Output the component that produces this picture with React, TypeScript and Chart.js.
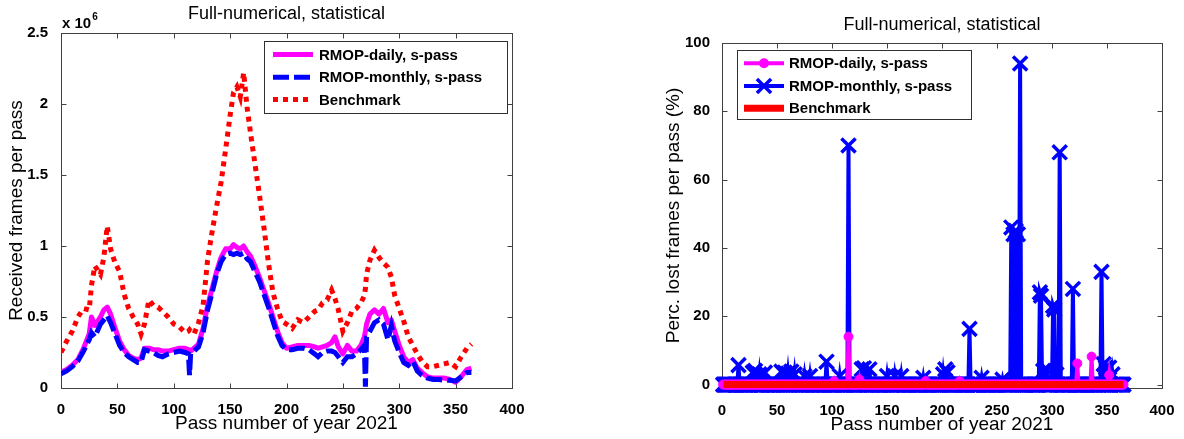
import React, { useEffect, useRef } from "react";
import { Chart, registerables } from "chart.js";

Chart.register(...registerables);

const FONT = 'Arial, "Liberation Sans", Helvetica, sans-serif';

// ---------- Left chart: received frames per pass (units of 10^6) ----------
const recvPasses = [
  0, 5, 10, 15, 20, 25, 27, 30, 35, 38, 41, 44, 48, 52, 56, 60, 64, 68, 71, 74,
  78, 82, 86, 90, 95, 100, 105, 110, 113, 114, 115, 118, 122, 126, 130, 134, 138, 142, 146, 150,
  153, 156, 159, 162, 165, 168, 172, 176, 180, 184, 188, 192, 196, 200, 205, 210, 215, 220, 225, 228,
  232, 236, 240, 243, 246, 250, 254, 258, 262, 266, 269, 270, 271, 274, 278, 282, 286, 290, 293, 296,
  300, 304, 308, 312, 316, 320, 325, 330, 335, 340, 345, 350, 355, 360, 364,
];
const recvDaily = [
  0.11, 0.13, 0.16, 0.2, 0.28, 0.38, 0.5, 0.44, 0.5, 0.55, 0.57, 0.52, 0.42, 0.33, 0.27, 0.23, 0.21, 0.2, 0.21, 0.28,
  0.28, 0.27, 0.27, 0.26, 0.26, 0.27, 0.28, 0.28, 0.27, 0.27, 0.26, 0.28, 0.31, 0.42, 0.58, 0.7, 0.82, 0.92, 0.98, 0.98,
  1.01, 0.99, 0.98, 1.0, 0.96, 0.93, 0.86, 0.78, 0.69, 0.6, 0.5, 0.4, 0.32, 0.28, 0.29, 0.3, 0.3, 0.3, 0.29, 0.28,
  0.29, 0.3, 0.32, 0.36, 0.29, 0.24, 0.3, 0.26, 0.26, 0.3, 0.36, 0.4, 0.45, 0.52, 0.55, 0.52, 0.56, 0.46, 0.48, 0.4,
  0.3, 0.22, 0.18, 0.2, 0.14, 0.11, 0.08, 0.07, 0.07, 0.07, 0.06, 0.04, 0.08, 0.13, 0.14,
];
const recvMonthly = [
  0.1, 0.12, 0.15, 0.19, 0.26, 0.34, 0.39, 0.36, 0.45, 0.48, 0.51, 0.46, 0.38, 0.3, 0.25, 0.22, 0.2, 0.18, 0.18, 0.27,
  0.26, 0.25, 0.23, 0.22, 0.24, 0.25, 0.26, 0.25, 0.24, 0.09, 0.24, 0.26, 0.29, 0.39, 0.55, 0.67, 0.8, 0.89, 0.94, 0.95,
  0.94, 0.95, 0.94, 0.95, 0.91, 0.89, 0.82, 0.75, 0.66, 0.57, 0.47, 0.37, 0.3, 0.27, 0.27, 0.28, 0.28, 0.27, 0.24, 0.22,
  0.25, 0.26, 0.26, 0.25, 0.22, 0.18, 0.22, 0.22, 0.24, 0.27, 0.3, 0.01, 0.36, 0.4, 0.46, 0.48, 0.45, 0.34, 0.44, 0.33,
  0.25, 0.18, 0.16, 0.19, 0.12, 0.09, 0.07, 0.06, 0.06, 0.055, 0.055, 0.05, 0.08, 0.11, 0.11,
];
const recvBenchmark = [
  0.25, 0.33, 0.4, 0.5, 0.56, 0.55, 0.72, 0.86, 0.8, 0.92, 1.14, 0.98, 0.88, 0.82, 0.66, 0.56, 0.5, 0.45, 0.38, 0.45,
  0.62, 0.58, 0.57, 0.54, 0.5, 0.45, 0.43, 0.39, 0.4, 0.41, 0.4, 0.38, 0.46, 0.58, 0.9, 1.1, 1.28, 1.45, 1.68, 1.92,
  2.08, 2.12, 2.05, 2.22, 1.98, 1.8, 1.58, 1.36, 1.13, 0.88, 0.67, 0.56, 0.47, 0.45, 0.42, 0.48, 0.46, 0.5, 0.54, 0.55,
  0.6, 0.62, 0.69, 0.63, 0.55, 0.4, 0.46, 0.54, 0.56, 0.6, 0.65, 0.7, 0.8, 0.9, 0.97, 0.92, 0.88, 0.85, 0.78, 0.65,
  0.56, 0.47, 0.36, 0.3, 0.24, 0.19, 0.15, 0.15, 0.16, 0.17, 0.18, 0.15, 0.22, 0.28, 0.31,
];

// ---------- Right chart: percentage of lost frames per pass ----------
const lossFirstPass = 1;
const lossLastPass = 365;
// passes not listed below are read as 0 %
const lossDailyPasses = [102, 115, 125, 185, 216, 323, 336, 352];
const lossDailyValues = [1, 14, 1.5, 1, 1, 6.2, 8.2, 2.8];
const lossMonthlyPasses = [
  15, 28, 30, 34, 39, 54, 57, 60, 63, 66, 75, 80, 95, 107, 115, 127, 129, 134, 150, 157,
  163, 183, 201, 203, 205, 225, 236, 255, 263, 265, 267, 269, 271, 289, 290, 292,
  295, 301, 302, 304, 307, 319, 345, 347, 349, 352, 355,
];
const lossMonthlyValues = [
  5.7, 3.5, 4, 3, 3.5, 3.8, 3.5, 3.2, 3.8, 3, 2.5, 2.5, 6.7, 2.5, 70, 4.5, 4.8, 4.5, 2.5, 2.5,
  2.5, 2, 3, 4.5, 3.6, 16.3, 2, 1.5, 46, 44, 45, 44, 94, 27, 26, 4,
  4.5, 23, 22, 3, 68, 28, 33, 6, 5, 5, 3,
];
const lossBenchmarkPasses = [1, 365];
const lossBenchmarkValues = [0, 0];

const xTicks = [0, 50, 100, 150, 200, 250, 300, 350, 400];
const recvYTicks = [0, 0.5, 1, 1.5, 2, 2.5];
const lossYTicks = [0, 20, 40, 60, 80, 100];

const TITLE = "Full-numerical, statistical";
const X_TITLE = "Pass number of year 2021";

const MAGENTA = "#ff00ff";
const BLUE = "#0000ff";
const RED = "#ff0000";

function xy(px: number[], vs: number[]) {
  return px.map((p, i) => ({ x: p, y: vs[i] }));
}
function sparseSeries(first: number, last: number, px: number[], vs: number[]) {
  const m = new Map<number, number>();
  px.forEach((p, i) => m.set(p, vs[i]));
  const out: { x: number; y: number }[] = [];
  for (let p = first; p <= last; p++) out.push({ x: p, y: m.has(p) ? (m.get(p) as number) : 0 });
  return out;
}

function drawX(ctx: CanvasRenderingContext2D, x: number, y: number, r: number) {
  const d = r * Math.SQRT1_2;
  ctx.beginPath();
  ctx.moveTo(x - d, y - d);
  ctx.lineTo(x + d, y + d);
  ctx.moveTo(x + d, y - d);
  ctx.lineTo(x - d, y + d);
  ctx.stroke();
}

const matlabPlugin = {
  id: "matlab",
  beforeDatasetsDraw(chart: any) {
    const { ctx, chartArea: a } = chart;
    const xs = chart.scales.x;
    const ys = chart.scales.y;
    const L = Math.round(a.left) + 0.5;
    const R = Math.round(a.right) + 0.5;
    const T = Math.round(a.top) + 0.5;
    const B = Math.round(a.bottom) + 0.5;
    ctx.save();
    ctx.strokeStyle = "#404040";
    ctx.lineWidth = 1;
    ctx.strokeRect(L, T, R - L, B - T);
    ctx.beginPath();
    for (const t of xs.ticks) {
      const px = Math.round(xs.getPixelForValue(t.value)) + 0.5;
      ctx.moveTo(px, B);
      ctx.lineTo(px, B - 5);
      ctx.moveTo(px, T);
      ctx.lineTo(px, T + 5);
    }
    for (const t of ys.ticks) {
      const py = Math.round(ys.getPixelForValue(t.value)) + 0.5;
      ctx.moveTo(L, py);
      ctx.lineTo(L + 5, py);
      ctx.moveTo(R, py);
      ctx.lineTo(R - 5, py);
    }
    ctx.stroke();
    ctx.restore();
  },
  afterDraw(chart: any, _args: any, opts: any) {
    const { ctx } = chart;
    ctx.save();
    if (opts.exponent) {
      const e = opts.exponent;
      ctx.fillStyle = "#000";
      ctx.textBaseline = "alphabetic";
      ctx.textAlign = "left";
      ctx.font = `bold 15px ${FONT}`;
      ctx.fillText(e.base, e.x, e.y);
      const w = ctx.measureText(e.base).width;
      ctx.font = `bold 10px ${FONT}`;
      ctx.fillText(e.sup, e.x + w + 1, e.y - 8);
    }
    const lg = opts.legend;
    if (lg) {
      ctx.fillStyle = "#fff";
      ctx.fillRect(lg.x, lg.y, lg.w, lg.h);
      ctx.strokeStyle = "#303030";
      ctx.lineWidth = 1;
      ctx.strokeRect(lg.x + 0.5, lg.y + 0.5, lg.w, lg.h);
      chart.data.datasets.forEach((ds: any, i: number) => {
        const y = lg.rows[i];
        ctx.save();
        ctx.strokeStyle = ds.borderColor;
        ctx.lineWidth = lg.lineWidths ? lg.lineWidths[i] : ds.borderWidth;
        ctx.lineCap = "butt";
        ctx.setLineDash(ds.borderDash || []);
        ctx.beginPath();
        ctx.moveTo(lg.x0, y);
        ctx.lineTo(lg.x1, y);
        ctx.stroke();
        ctx.setLineDash([]);
        const mx = (lg.x0 + lg.x1) / 2;
        if (ds.pointRadius > 0) {
          if (ds.pointStyle === "crossRot") {
            ctx.strokeStyle = ds.pointBorderColor;
            ctx.lineWidth = ds.pointBorderWidth;
            drawX(ctx, mx, y, ds.pointRadius);
          } else {
            ctx.fillStyle = ds.pointBackgroundColor;
            ctx.beginPath();
            ctx.arc(mx, y, ds.pointRadius + 0.5, 0, Math.PI * 2);
            ctx.fill();
          }
        }
        ctx.restore();
        ctx.fillStyle = "#000";
        ctx.font = `bold 15px ${FONT}`;
        ctx.textBaseline = "middle";
        ctx.textAlign = "left";
        ctx.fillText(ds.label, lg.textX, y + 1);
      });
    }
    ctx.restore();
  },
};

function tickCfg(padding: number) {
  return {
    autoSkip: false,
    maxRotation: 0,
    minRotation: 0,
    padding,
    color: "#000",
    font: { family: FONT, size: 15, weight: "bold" as const },
    callback: (v: any) => String(v),
  };
}

function makeScales(o: {
  yMin: number;
  yMax: number;
  yTicks: number[];
  yWidth: number;
  yTitle: string;
  yTitlePad: number;
  yTickPad: number;
  xHeight: number;
  xTickPad: number;
  xTitlePad: number;
}) {
  return {
    x: {
      type: "linear" as const,
      min: 0,
      max: 400,
      afterBuildTicks: (s: any) => {
        s.ticks = xTicks.map((v) => ({ value: v }));
      },
      afterFit: (s: any) => {
        s.height = o.xHeight;
      },
      grid: { display: false },
      border: { display: false },
      ticks: tickCfg(o.xTickPad),
      title: {
        display: true,
        text: X_TITLE,
        color: "#000",
        font: { family: FONT, size: 19, weight: "normal" as const },
        padding: { top: 0, bottom: o.xTitlePad },
      },
    },
    y: {
      type: "linear" as const,
      min: o.yMin,
      max: o.yMax,
      afterBuildTicks: (s: any) => {
        s.ticks = o.yTicks.map((v) => ({ value: v }));
      },
      afterFit: (s: any) => {
        s.width = o.yWidth;
      },
      grid: { display: false },
      border: { display: false },
      ticks: tickCfg(o.yTickPad),
      title: {
        display: true,
        text: o.yTitle,
        color: "#000",
        font: { family: FONT, size: 19, weight: "normal" as const },
        padding: { top: o.yTitlePad, bottom: 0 },
      },
    },
  };
}

function leftConfig(): any {
  return {
    type: "line",
    data: {
      datasets: [
        {
          label: "RMOP-daily, s-pass",
          data: xy(recvPasses, recvDaily),
          borderColor: MAGENTA,
          borderWidth: 5,
          borderJoinStyle: "round",
          pointRadius: 0,
          order: 2,
        },
        {
          label: "RMOP-monthly, s-pass",
          data: xy(recvPasses, recvMonthly),
          borderColor: BLUE,
          borderWidth: 5,
          borderDash: [16, 5],
          pointRadius: 0,
          order: 1,
        },
        {
          label: "Benchmark",
          data: xy(recvPasses, recvBenchmark),
          borderColor: RED,
          borderWidth: 5,
          borderDash: [5, 5],
          pointRadius: 0,
          order: 0,
        },
      ],
    },
    options: {
      animation: false,
      responsive: false,
      devicePixelRatio: 1,
      events: [],
      layout: { padding: { left: 0, right: 80, top: 0, bottom: 3 }, autoPadding: false },
      scales: makeScales({
        yMin: 0,
        yMax: 2.5,
        yTicks: recvYTicks,
        yWidth: 61,
        yTitle: "Received frames per pass",
        yTitlePad: 5.6,
        yTickPad: 5,
        xHeight: 48,
        xTickPad: 4.6,
        xTitlePad: 0.6,
      }),
      plugins: {
        legend: { display: false },
        tooltip: { enabled: false },
        title: {
          display: true,
          text: TITLE,
          fullSize: false,
          color: "#000",
          font: { family: FONT, size: 18, weight: "normal" },
          padding: { top: 3.2, bottom: 8.2 },
        },
        matlab: {
          exponent: { x: 62, y: 28, base: "x 10", sup: "6" },
          legend: { x: 264, y: 41, w: 243, h: 72, rows: [54.5, 77.3, 99.5], x0: 273, x1: 313, textX: 319 },
        },
      },
    },
    plugins: [matlabPlugin],
  };
}

function rightConfig(): any {
  return {
    type: "line",
    data: {
      datasets: [
        {
          label: "RMOP-daily, s-pass",
          data: sparseSeries(lossFirstPass, lossLastPass, lossDailyPasses, lossDailyValues),
          borderColor: MAGENTA,
          borderWidth: 4,
          pointStyle: "circle",
          pointRadius: 4.5,
          pointBorderWidth: 1,
          pointBackgroundColor: MAGENTA,
          pointBorderColor: MAGENTA,
          clip: false,
          order: 1,
        },
        {
          label: "RMOP-monthly, s-pass",
          data: sparseSeries(lossFirstPass, lossLastPass, lossMonthlyPasses, lossMonthlyValues),
          borderColor: BLUE,
          borderWidth: 4,
          pointStyle: "crossRot",
          pointRadius: 10,
          pointBorderWidth: 3.5,
          pointBackgroundColor: BLUE,
          pointBorderColor: BLUE,
          clip: false,
          order: 2,
        },
        {
          label: "Benchmark",
          data: xy(lossBenchmarkPasses, lossBenchmarkValues),
          borderColor: RED,
          borderWidth: 7,
          pointRadius: 0,
          clip: false,
          order: 0,
        },
      ],
    },
    options: {
      animation: false,
      responsive: false,
      devicePixelRatio: 1,
      events: [],
      layout: { padding: { left: 0, right: 22, top: 0, bottom: 3 }, autoPadding: false },
      scales: makeScales({
        yMin: -1,
        yMax: 100,
        yTicks: lossYTicks,
        yWidth: 130,
        yTitle: "Perc. lost frames per pass (%)",
        yTitlePad: 70.6,
        yTickPad: 4,
        xHeight: 48,
        xTickPad: 5.6,
        xTitlePad: 0,
      }),
      plugins: {
        legend: { display: false },
        tooltip: { enabled: false },
        title: {
          display: true,
          text: TITLE,
          fullSize: false,
          color: "#000",
          font: { family: FONT, size: 18, weight: "normal" },
          padding: { top: 14.2, bottom: 7.2 },
        },
        matlab: {
          legend: {
            x: 145,
            y: 50,
            w: 234,
            h: 69,
            rows: [63.3, 86, 108.3],
            x0: 152,
            x1: 192,
            textX: 197,
            lineWidths: [4, 4, 7],
          },
        },
      },
    },
    plugins: [matlabPlugin],
  };
}

export default function App() {
  const leftRef = useRef<HTMLCanvasElement>(null);
  const rightRef = useRef<HTMLCanvasElement>(null);
  useEffect(() => {
    const c1 = new Chart(leftRef.current as HTMLCanvasElement, leftConfig());
    const c2 = new Chart(rightRef.current as HTMLCanvasElement, rightConfig());
    return () => {
      c1.destroy();
      c2.destroy();
    };
  }, []);
  return (
    <div style={{ position: "fixed", left: 0, top: 0, width: 1184, height: 439, background: "#fff", overflow: "hidden" }}>
      <canvas
        ref={leftRef}
        width={592}
        height={439}
        style={{ position: "absolute", left: 0, top: 0, width: 592, height: 439 }}
      />
      <canvas
        ref={rightRef}
        width={592}
        height={439}
        style={{ position: "absolute", left: 592, top: 0, width: 592, height: 439 }}
      />
    </div>
  );
}
